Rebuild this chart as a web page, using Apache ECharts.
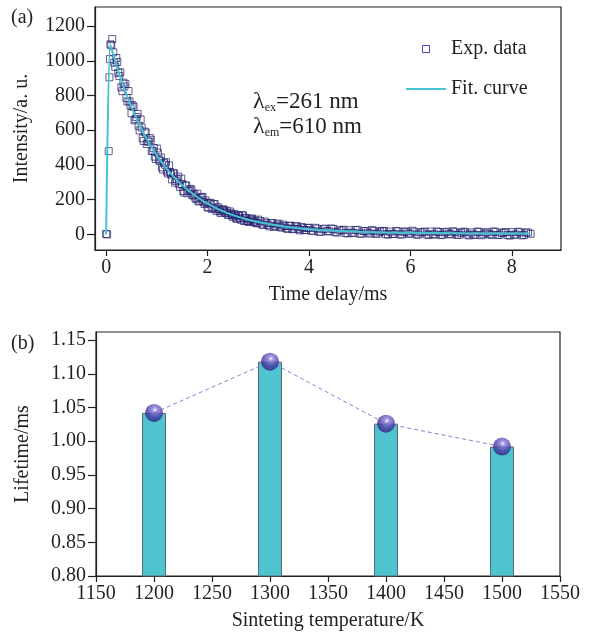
<!DOCTYPE html>
<html>
<head>
<meta charset="utf-8">
<title>Decay curve and lifetime</title>
<script src="https://cdn.jsdelivr.net/npm/echarts@6.0.0/dist/echarts.min.js"></script>
<style>
    html, body { margin: 0; padding: 0; background: #ffffff; }
    #chart { width: 591px; height: 635px; }
</style>
</head>
<body>
<div id="chart"></div>
<script>
/* globals echarts */

// (a) measured decay, time in ms (first pass of readings)
const expTime = [
    0, 0.02, 0.05, 0.065, 0.075, 0.085, 0.1, 0.12,
    0.14, 0.18, 0.22, 0.26, 0.30, 0.34, 0.38, 0.42, 0.46, 0.50,
    0.54, 0.58, 0.62, 0.66, 0.70, 0.74, 0.78, 0.82, 0.86, 0.90,
    0.94, 0.98, 1.02, 1.06, 1.10, 1.14, 1.18, 1.22, 1.26, 1.30,
    1.34, 1.38, 1.42, 1.46, 1.50, 1.54, 1.58, 1.62, 1.66, 1.70,
    1.74, 1.78, 1.82, 1.86, 1.90, 1.94, 1.98, 2.02, 2.06, 2.10,
    2.14, 2.18, 2.22, 2.26, 2.30, 2.34, 2.38, 2.42, 2.46, 2.50,
    2.54, 2.58, 2.62, 2.66, 2.70, 2.74, 2.78, 2.82, 2.86, 2.90,
    2.94, 2.98,
    3.04, 3.10, 3.16, 3.22, 3.28, 3.34, 3.40, 3.46, 3.52, 3.58,
    3.64, 3.70, 3.76, 3.82, 3.88, 3.94, 4.00,
    4.08, 4.16, 4.24, 4.32, 4.40, 4.48, 4.56, 4.64, 4.72, 4.80,
    4.88, 4.96, 5.04, 5.12, 5.20, 5.28, 5.36, 5.44, 5.52, 5.60,
    5.68, 5.76, 5.84, 5.92, 6.00, 6.08, 6.16, 6.24, 6.32, 6.40,
    6.48, 6.56, 6.64, 6.72, 6.80, 6.88, 6.96, 7.04, 7.12, 7.20,
    7.28, 7.36, 7.44, 7.52, 7.60, 7.68, 7.76, 7.84, 7.92, 8.00,
    8.08, 8.16, 8.24, 8.32, 8.37
];
const expIntensity = [
    2, 0, 480, 905, 1010, 1095, 1090, 1125,
    1049, 965, 993, 912, 847, 874, 867, 766, 766, 698,
    735, 664, 694, 599, 616, 538, 586, 535, 555, 480,
    497, 434, 471, 423, 386, 412, 416, 351, 359, 317,
    351, 307, 333, 273, 290, 241, 281, 251, 262, 225,
    234, 203, 190, 212, 216, 175, 182, 156, 182, 153,
    175, 135, 148, 123, 143, 127, 136, 113, 121, 101,
    112, 90, 109, 84, 109, 93, 77, 71, 90, 72,
    80, 65,
    76, 55, 65, 46, 65, 47, 62, 39, 48, 32,
    50, 33, 47, 23, 38, 25, 38,
    19, 33, 15, 33, 17, 31, 11, 23, 8, 24,
    8, 24, 4, 19, 4, 20, 5, 20, 1, 16,
    2, 17, 0, 17, 3, 15, -1, 13, 0, 16,
    0, 13, -2, 15, 0, 13, -2, 15, -1, 11,
    -3, 14, 0, 12, -3, 14, -2, 11, -4, 13,
    -1, 12, -3, 11, 3
];

// (a) second pass of readings, between the first ones
const expTimeB = [
    0.16, 0.20, 0.24, 0.28, 0.32, 0.36, 0.40, 0.44, 0.48, 0.52,
    0.56, 0.60, 0.64, 0.68, 0.72, 0.76, 0.80, 0.84, 0.88, 0.92,
    0.96, 1.00, 1.04, 1.08, 1.12, 1.16, 1.20, 1.24, 1.28, 1.32,
    1.36, 1.40, 1.44, 1.48, 1.52, 1.56, 1.60, 1.64, 1.68, 1.72,
    1.76, 1.80, 1.84, 1.88, 1.92, 1.96, 2.00, 2.04, 2.08, 2.12,
    2.16, 2.20, 2.24, 2.28, 2.32, 2.36, 2.40, 2.44, 2.48, 2.52,
    2.56, 2.60, 2.64, 2.68, 2.72, 2.76, 2.80, 2.84, 2.88, 2.92,
    2.96, 3.00,
    3.07, 3.13, 3.19, 3.25, 3.31, 3.37, 3.43, 3.49, 3.55, 3.61,
    3.67, 3.73, 3.79, 3.85, 3.91, 3.97,
    4.04, 4.12, 4.20, 4.28, 4.36, 4.44, 4.52, 4.60, 4.68, 4.76,
    4.84, 4.92, 5.00, 5.08, 5.16, 5.24, 5.32, 5.40, 5.48, 5.56,
    5.64, 5.72, 5.80, 5.88, 5.96, 6.04, 6.12, 6.20, 6.28, 6.36,
    6.44, 6.52, 6.60, 6.68, 6.76, 6.84, 6.92, 7.00, 7.08, 7.16,
    7.24, 7.32, 7.40, 7.48, 7.56, 7.64, 7.72, 7.80, 7.88, 7.96,
    8.04, 8.12, 8.20, 8.28
];
const expIntensityB = [
    989, 1016, 930, 934, 825, 853, 786, 826, 742, 744,
    657, 676, 626, 662, 554, 592, 521, 535, 545, 481,
    448, 495, 431, 443, 374, 402, 362, 397, 345, 354,
    298, 318, 289, 321, 250, 282, 237, 251, 257, 225,
    210, 234, 194, 213, 186, 196, 155, 179, 147, 173,
    145, 157, 132, 138, 143, 123, 113, 132, 109, 118,
    93, 106, 93, 110, 77, 95, 75, 84, 91, 72,
    64, 85,
    57, 74, 54, 65, 43, 57, 44, 56, 35, 49,
    30, 46, 31, 43, 25, 37,
    22, 38, 15, 30, 19, 34, 12, 23, 27, 6,
    10, 26, 4, 19, 10, 25, 3, 15, 19, -1,
    3, 20, -1, 14, 5, 21, -1, 11, 16, -4,
    0, 17, -4, 12, 3, 18, -3, 9, 14, -6,
    -1, 16, -5, 10, 1, 17, -4, 8, 13, -7,
    -2, 15, -6, 10
];

// (a) fitted curve
const fitTime = [0, 0.08, 0.2, 0.3, 0.4, 0.5, 0.6, 0.7, 0.8, 0.9, 1.0, 1.2, 1.4, 1.6, 1.8,
    2.0, 2.25, 2.5, 2.75, 3.0, 3.5, 4.0, 4.5, 5.0, 5.5, 6.0, 7.0, 8.0, 8.35];
const fitIntensity = [0, 1095, 976, 887, 806, 733, 666, 606, 551, 500, 455, 376, 311, 258, 214,
    177, 140, 111, 89, 71, 46, 30, 21, 15, 11, 9, 6, 5, 5];

const timeTicks = [0, 2, 4, 6, 8];
const intensityTicks = [0, 200, 400, 600, 800, 1000, 1200];

// (b) lifetime vs sintering temperature
const sinterTemp = [1200, 1300, 1400, 1500];
const lifetime = [1.042, 1.118, 1.026, 0.992];
const lifetimeTicks = [0.80, 0.85, 0.90, 0.95, 1.00, 1.05, 1.10, 1.15];

const font = "Liberation Serif";
const ink = "#231f20";
const squareColor = "#24216e";
const fitColor = "#45c3d3";

const axisLine = { show: true, onZero: false, lineStyle: { color: ink, width: 1.2 } };
const labelStyle = { fontFamily: font, fontSize: 20, color: ink };

function tickSet(values, len) {
    return { show: true, inside: false, length: len, customValues: values, lineStyle: { color: ink, width: 1.2 } };
}

// plain numbers, no thousands separator
const plain = (v) => String(v);

const expPoints = expTime.map((t, i) => [t, expIntensity[i]])
    .concat(expTimeB.map((t, i) => [t, expIntensityB[i]]));
const fitPoints = fitTime.map((t, i) => [t, fitIntensity[i]]);
const barPoints = sinterTemp.map((t, i) => [t, lifetime[i]]);

const lambdaRich = {
    l: { fontFamily: font, fontSize: 24, fill: ink, lineHeight: 24 },
    s: { fontFamily: font, fontSize: 12, fill: ink, verticalAlign: "bottom", lineHeight: 24 },
    n: { fontFamily: font, fontSize: 23, fill: ink, lineHeight: 24 }
};

const settings = {
    animation: false,
    backgroundColor: "#ffffff",
    grid: [
        { left: 95, top: 7, width: 466, height: 243, show: true, borderColor: ink, borderWidth: 1.2, outerBoundsMode: "none" },
        { left: 96, top: 332, width: 464, height: 244, show: true, borderColor: ink, borderWidth: 1.2, outerBoundsMode: "none" }
    ],
    legend: {
        left: 401,
        top: 34,
        orient: "vertical",
        itemWidth: 40,
        itemHeight: 7,
        itemGap: 20,
        textStyle: { fontFamily: font, fontSize: 20, color: ink },
        data: [
            {
                name: "Exp. data",
                icon: "path://M0,0H10V10H0Z",
                itemStyle: { color: "transparent", borderColor: "#4a47b0", borderWidth: 1, opacity: 1 }
            },
            {
                name: "Fit. curve",
                icon: "path://M0,0H40V2H0Z",
                itemStyle: { color: fitColor, borderWidth: 0 }
            }
        ]
    },
    xAxis: [
        {
            gridIndex: 0,
            type: "value",
            min: -0.22,
            max: 8.97,
            axisLine: axisLine,
            axisTick: tickSet(timeTicks, 6),
            axisLabel: Object.assign({ margin: 8, customValues: timeTicks, formatter: plain }, labelStyle),
            splitLine: { show: false },
            name: "Time delay/ms",
            nameLocation: "middle",
            nameGap: 35,
            nameTextStyle: labelStyle
        },
        {
            gridIndex: 1,
            type: "value",
            min: 1150,
            max: 1550,
            interval: 50,
            axisLine: axisLine,
            axisTick: { show: true, length: 6, lineStyle: { color: ink, width: 1.2 } },
            axisLabel: Object.assign({ margin: 8, formatter: plain }, labelStyle),
            splitLine: { show: false },
            name: "Sinteting temperature/K",
            nameLocation: "middle",
            nameGap: 35,
            nameTextStyle: labelStyle
        }
    ],
    yAxis: [
        {
            gridIndex: 0,
            type: "value",
            min: -90,
            max: 1310,
            axisLine: axisLine,
            axisTick: tickSet(intensityTicks, 8),
            axisLabel: Object.assign({ margin: 10, customValues: intensityTicks, formatter: plain }, labelStyle),
            splitLine: { show: false },
            name: "Intensity/a. u.",
            nameLocation: "middle",
            nameGap: 63,
            nameTextStyle: labelStyle
        },
        {
            gridIndex: 1,
            type: "value",
            min: 0.8,
            max: 1.162,
            axisLine: axisLine,
            axisTick: tickSet(lifetimeTicks, 8),
            axisLabel: Object.assign({
                margin: 10,
                customValues: lifetimeTicks,
                formatter: (v) => v.toFixed(2)
            }, labelStyle),
            splitLine: { show: false },
            name: "Lifetime/ms",
            nameLocation: "middle",
            nameGap: 63,
            nameTextStyle: labelStyle
        }
    ],
    graphic: [
        { type: "text", left: 11, top: 8, style: { text: "(a)", fontFamily: font, fontSize: 20, fill: ink } },
        { type: "text", left: 11, top: 334, style: { text: "(b)", fontFamily: font, fontSize: 20, fill: ink } },
        { type: "text", left: 253, top: 90, style: { text: "{l|λ}{s|ex}{n|=261 nm}", rich: lambdaRich } },
        { type: "text", left: 253, top: 115, style: { text: "{l|λ}{s|em}{n|=610 nm}", rich: lambdaRich } }
    ],
    series: [
        {
            name: "Exp. data",
            type: "scatter",
            xAxisIndex: 0,
            yAxisIndex: 0,
            symbol: "rect",
            symbolSize: 7,
            itemStyle: { color: "transparent", borderColor: squareColor, borderWidth: 1, opacity: 0.72 },
            data: expPoints,
            z: 2
        },
        {
            name: "Fit. curve",
            type: "line",
            xAxisIndex: 0,
            yAxisIndex: 0,
            symbol: "none",
            smooth: 0.2,
            lineStyle: { color: fitColor, width: 2 },
            itemStyle: { color: fitColor },
            data: fitPoints,
            z: 3
        },
        {
            type: "bar",
            xAxisIndex: 1,
            yAxisIndex: 1,
            barWidth: 24,
            itemStyle: { color: "#4fc4d1", borderColor: "#5a6a6e", borderWidth: 1 },
            data: barPoints,
            z: 2
        },
        {
            type: "line",
            xAxisIndex: 1,
            yAxisIndex: 1,
            symbol: "none",
            lineStyle: { color: "#8b80d6", width: 1, type: [4, 3] },
            data: barPoints,
            z: 3
        },
        {
            type: "scatter",
            xAxisIndex: 1,
            yAxisIndex: 1,
            symbol: "circle",
            symbolSize: 18,
            itemStyle: {
                color: {
                    type: "radial", x: 0.55, y: 0.33, r: 0.75,
                    colorStops: [
                        { offset: 0, color: "#f2eeff" },
                        { offset: 0.18, color: "#8a7cd8" },
                        { offset: 0.6, color: "#4434a0" },
                        { offset: 1, color: "#2a1d78" }
                    ]
                }
            },
            data: barPoints,
            z: 4
        }
    ]
};

const myChart = echarts.init(document.getElementById("chart"));
myChart.setOption(settings);
</script>
</body>
</html>
